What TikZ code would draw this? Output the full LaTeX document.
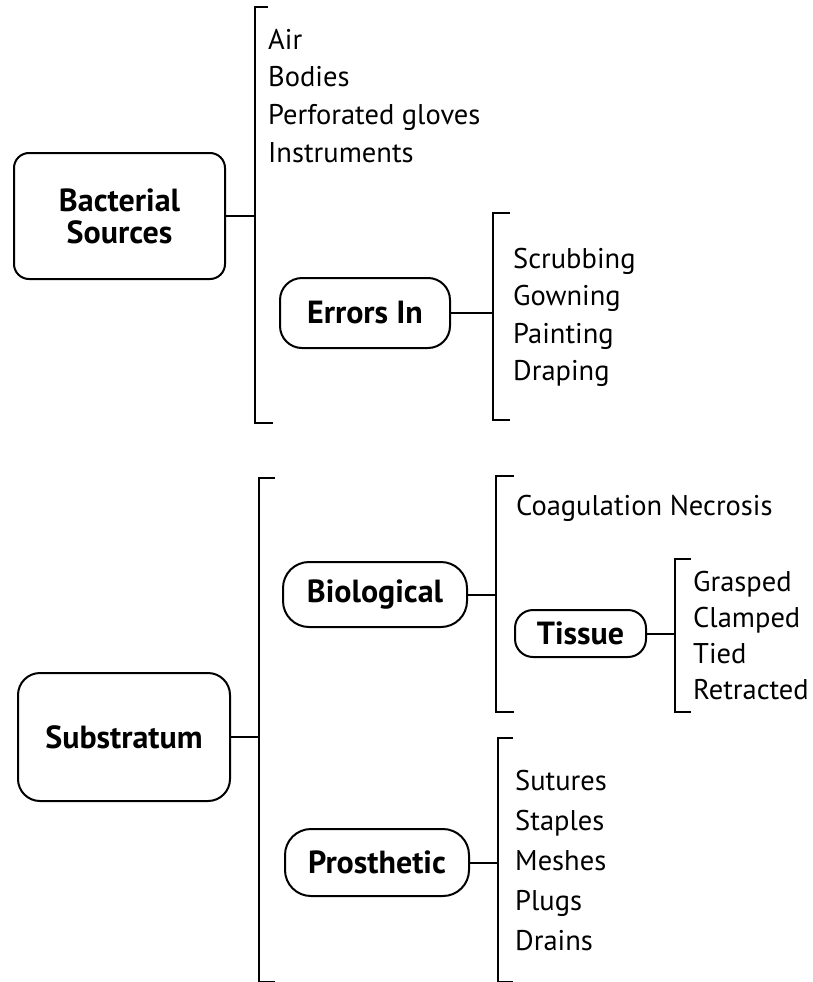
\documentclass[tikz,border=0pt]{standalone}
\usepackage{fontspec}
\setmainfont{PT Sans}
\usetikzlibrary{positioning,calc}

\tikzset{
  topic/.style={draw, line width=2pt, align=center, inner sep=0pt,
    font=\bfseries\fontsize{32}{32}\selectfont},
  item/.style={anchor=base west, inner sep=0pt,
    font=\fontsize{28.5}{30}\selectfont},
  brace/.style={line width=2.4pt},
  link/.style={line width=2pt},
}

\begin{document}
\begin{tikzpicture}[x=1pt, y=-1pt]
    \fill[white] (0,0) rectangle (812,982);
    \useasboundingbox (0,0) rectangle (812,982);

    % Bacterial Sources
    \node[topic, rounded corners=15pt, minimum width=211pt, minimum height=126pt] (bact) at (119.5,216) {Bacterial\\Sources};
    \coordinate (b1t) at (255,7);
    \coordinate (b1b) at (255,423);
    \draw[brace] ([xshift=13pt]b1t) -- (b1t) -- (b1b) -- ([xshift=18pt]b1b);
    \draw[link] (bact) -- (bact -| b1t);
    \foreach \t [count=\i] in {Air, Bodies, Perforated gloves, Instruments}
        \node[item] (src\i) at (268, 11.3+37.7*\i) {\t};

    % Errors In
    \node[topic, rounded corners=22pt, minimum width=170pt, minimum height=70pt] (errors) at (365,313) {Errors In};
    \coordinate (b2t) at (493,213);
    \coordinate (b2b) at (493,420);
    \draw[brace] ([xshift=17pt]b2t) -- (b2t) -- (b2b) -- ([xshift=17pt]b2b);
    \draw[link] (errors) -- (errors -| b2t);
    \foreach \t [count=\i] in {Scrubbing, Gowning, Painting, Draping}
        \node[item] (err\i) at (513, 230.5+37.5*\i) {\t};

    % Substratum
    \node[topic, rounded corners=22pt, minimum width=212pt, minimum height=128pt] (subst) at (124,737) {Substratum};
    \coordinate (b3t) at (259,478);
    \coordinate (b3b) at (259,982);
    \draw[brace] ([xshift=16pt]b3t) -- (b3t) -- (b3b) -- ([xshift=16pt]b3b);
    \draw[link] (subst) -- (subst -| b3t);

    % Biological
    \node[topic, rounded corners=26pt, minimum width=184pt, minimum height=65pt] (bio) at (375,594.5) {Biological};
    \coordinate (b4t) at (496,476);
    \coordinate (b4b) at (496,712);
    \draw[brace] ([xshift=18pt]b4t) -- (b4t) -- (b4b) -- ([xshift=18pt]b4b);
    \draw[link] (bio) -- (bio -| b4t);
    \node[item] (necro) at (516,515) {Coagulation Necrosis};

    % Tissue
    \node[topic, rounded corners=18pt, minimum width=131pt, minimum height=47pt] (tissue) at (580.5,633.5) {Tissue};
    \coordinate (b6t) at (675,559);
    \coordinate (b6b) at (675,712);
    \draw[brace] ([xshift=16pt]b6t) -- (b6t) -- (b6b) -- ([xshift=16pt]b6b);
    \draw[link] (tissue) -- (tissue -| b6t);
    \foreach \t [count=\i] in {Grasped, Clamped, Tied, Retracted}
        \node[item] (tis\i) at (693, 555+36*\i) {\t};

    % Prosthetic
    \node[topic, rounded corners=26pt, minimum width=184pt, minimum height=67pt] (prosth) at (377,862.5) {Prosthetic};
    \coordinate (b5t) at (498,738);
    \coordinate (b5b) at (498,982);
    \draw[brace] ([xshift=15pt]b5t) -- (b5t) -- (b5b) -- ([xshift=15pt]b5b);
    \draw[link] (prosth) -- (prosth -| b5t);
    \foreach \t [count=\i] in {Sutures, Staples, Meshes, Plugs, Drains}
        \node[item] (pro\i) at (515, 750+40*\i) {\t};
\end{tikzpicture}
\end{document}
